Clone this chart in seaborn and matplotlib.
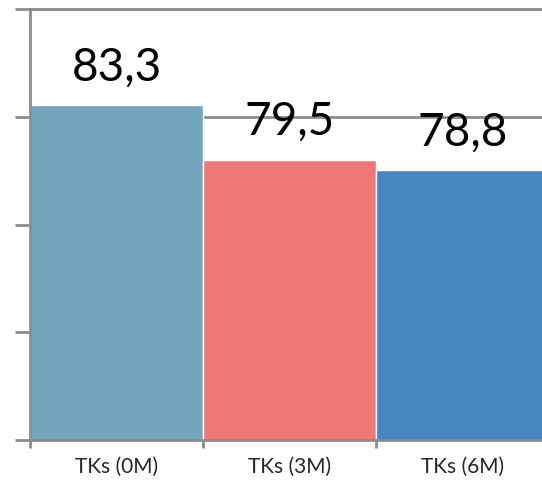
import matplotlib
matplotlib.use("Agg")
import matplotlib.pyplot as plt
import seaborn as sns
import pandas as pd

# data
categories = ["TKs (0M)", "TKs (3M)", "TKs (6M)"]
values = [83.3, 79.5, 78.8]
bar_colors = ["#75A5BD", "#EF7876", "#4786C1"]
y_ticks = [60, 67.5, 75, 82.5, 90]

df = pd.DataFrame({"group": categories, "score": values})

sns.set_style("white")
plt.rcParams["font.family"] = ["Lato", "DejaVu Sans"]

fig = plt.figure(figsize=(5.42, 4.84), dpi=100)
# axes runs a little past the right edge, like the cropped original
ax = fig.add_axes([30 / 542, 44 / 484, 519 / 542, 431 / 484])

sns.barplot(data=df, x="group", y="score", hue="group", palette=bar_colors,
            saturation=1, width=1.0, dodge=False, legend=False, ax=ax,
            edgecolor="white", linewidth=1.0, zorder=2)

ax.set_xlim(-0.5, 2.5)
ax.set_ylim(y_ticks[0], y_ticks[-1])
ax.set_yticks(y_ticks)
ax.set_yticklabels([])
ax.yaxis.grid(True, color="#8c8c8c", linewidth=2, zorder=0)
ax.set_axisbelow(True)

# value labels with comma decimals
for i, v in enumerate(values):
    ax.annotate(f"{v:.1f}".replace(".", ","), (i, v), xytext=(0, 12),
                textcoords="offset points", ha="center", va="bottom",
                fontsize=33, color="black", zorder=3)

# top spine stands in for the gridline at the upper limit
ax.spines["right"].set_visible(False)
for side in ["left", "bottom", "top"]:
    ax.spines[side].set_visible(True)
    ax.spines[side].set_color("#8c8c8c")
    ax.spines[side].set_linewidth(2)

ax.tick_params(axis="y", which="major", left=True, length=11, width=2,
               color="#8c8c8c", direction="out")
ax.set_xticks([0, 1, 2])
ax.set_xticklabels(categories)
ax.set_xticks([-0.5, 0.5, 1.5, 2.5], minor=True)
ax.tick_params(axis="x", which="major", length=0, pad=12, labelsize=15)
ax.tick_params(axis="x", which="minor", bottom=True, top=False, length=6,
               width=2, color="#8c8c8c", direction="out")
ax.set_xlabel("")
ax.set_ylabel("")

fig.savefig("out.png", dpi=100)
